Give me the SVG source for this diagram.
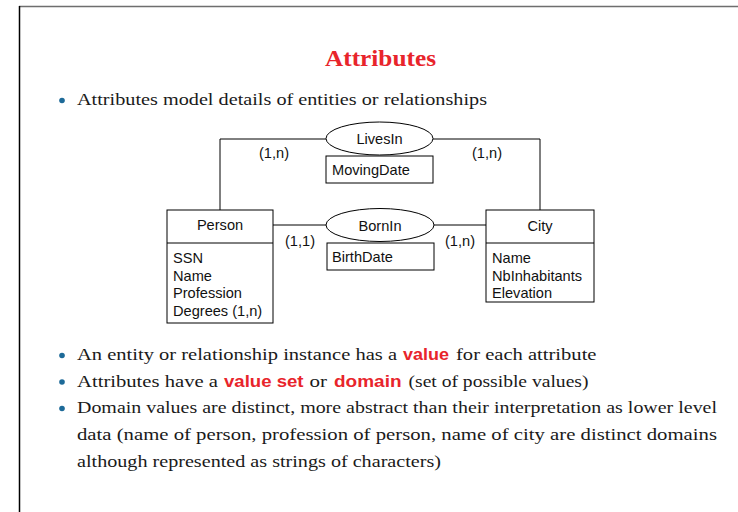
<svg xmlns="http://www.w3.org/2000/svg" width="738" height="512" viewBox="0 0 738 512">
  <style>
    .frame { stroke-width: 1.5; fill: none; }
    .box { fill: #fff; stroke: #000; stroke-width: 1; }
    .rel { fill: #fff; stroke: #000; stroke-width: 1; }
    .conn { fill: none; stroke: #000; stroke-width: 1; }
    .lbl { font-family: "Liberation Sans", Arial, sans-serif; font-size: 14.6px; fill: #111; }
    .mid { text-anchor: middle; }
    .body { font-family: "Liberation Serif", "Times New Roman", serif; font-size: 17.5px; fill: #1a1a1a; }
    .hl { font-family: "Liberation Sans", Arial, sans-serif; font-weight: bold; font-size: 16.5px; fill: #e8242b; }
    .title { font-family: "Liberation Serif", "Times New Roman", serif; font-weight: bold; font-size: 24px; fill: #e8242b; }
    .dot { fill: #1d6a98; }
  </style>

  <rect width="738" height="512" fill="#fff"/>

  <!-- page frame -->
  <line class="frame" x1="19" y1="6.5" x2="738" y2="6.5" stroke="#6e6e6e"/>
  <line class="frame" x1="19.5" y1="6" x2="19.5" y2="512" stroke="#000"/>

  <!-- heading -->
  <text class="title" x="325" y="66" textLength="111" lengthAdjust="spacingAndGlyphs">Attributes</text>

  <!-- first bullet -->
  <circle class="dot" cx="62" cy="100.5" r="2.8"/>
  <text class="body" x="77" y="105" textLength="410" lengthAdjust="spacingAndGlyphs">Attributes model details of entities or relationships</text>

  <!-- connectors -->
  <g id="connectors">
    <polyline class="conn" points="220,210 220,139 326,139"/>
    <polyline class="conn" points="433,139 540,139 540,210"/>
    <line class="conn" x1="273" y1="225" x2="326" y2="225"/>
    <line class="conn" x1="434" y1="225" x2="486" y2="225"/>
  </g>

  <!-- cardinalities -->
  <g id="cardinalities">
    <text class="lbl" x="259" y="158">(1,n)</text>
    <text class="lbl" x="472" y="158">(1,n)</text>
    <text class="lbl" x="285" y="246">(1,1)</text>
    <text class="lbl" x="445" y="246">(1,n)</text>
  </g>

  <!-- entity Person -->
  <g id="person">
    <rect class="box" x="167" y="210" width="106" height="113"/>
    <line class="conn" x1="167" y1="243" x2="273" y2="243"/>
    <text class="lbl mid" x="220" y="229.5">Person</text>
    <text class="lbl" x="173" y="263">SSN</text>
    <text class="lbl" x="173" y="280.5">Name</text>
    <text class="lbl" x="173" y="298">Profession</text>
    <text class="lbl" x="173" y="315.5">Degrees (1,n)</text>
  </g>

  <!-- entity City -->
  <g id="city">
    <rect class="box" x="486" y="210" width="108" height="92"/>
    <line class="conn" x1="486" y1="243" x2="594" y2="243"/>
    <text class="lbl mid" x="540" y="231">City</text>
    <text class="lbl" x="492" y="263">Name</text>
    <text class="lbl" x="492" y="280.5">NbInhabitants</text>
    <text class="lbl" x="492" y="298">Elevation</text>
  </g>

  <!-- relationship LivesIn -->
  <g id="livesin">
    <ellipse class="rel" cx="379.5" cy="138.5" rx="53.5" ry="16.5"/>
    <text class="lbl mid" x="379.5" y="144">LivesIn</text>
    <rect class="box" x="326" y="156" width="107" height="27"/>
    <text class="lbl" x="332" y="175">MovingDate</text>
  </g>

  <!-- relationship BornIn -->
  <g id="bornin">
    <ellipse class="rel" cx="380" cy="225" rx="54" ry="16.5"/>
    <text class="lbl mid" x="380" y="230.5">BornIn</text>
    <rect class="box" x="327" y="243" width="107" height="27"/>
    <text class="lbl" x="332" y="262">BirthDate</text>
  </g>

  <!-- remaining bullets -->
  <circle class="dot" cx="62" cy="355.5" r="2.8"/>
  <text class="body" x="77" y="360" textLength="320" lengthAdjust="spacingAndGlyphs">An entity or relationship instance has a</text>
  <text class="hl" x="403" y="360" textLength="46" lengthAdjust="spacingAndGlyphs">value</text>
  <text class="body" x="456" y="360" textLength="140.5" lengthAdjust="spacingAndGlyphs">for each attribute</text>

  <circle class="dot" cx="62" cy="382" r="2.8"/>
  <text class="body" x="77" y="386.5" textLength="141" lengthAdjust="spacingAndGlyphs">Attributes have a</text>
  <text class="hl" x="224" y="386.5" textLength="79.5" lengthAdjust="spacingAndGlyphs">value set</text>
  <text class="body" x="309.5" y="386.5" textLength="17.5" lengthAdjust="spacingAndGlyphs">or</text>
  <text class="hl" x="334" y="386.5" textLength="67.5" lengthAdjust="spacingAndGlyphs">domain</text>
  <text class="body" x="408.5" y="386.5" textLength="180" lengthAdjust="spacingAndGlyphs">(set of possible values)</text>

  <circle class="dot" cx="62" cy="408.5" r="2.8"/>
  <text class="body" x="77" y="413" textLength="640" lengthAdjust="spacingAndGlyphs">Domain values are distinct, more abstract than their interpretation as lower level</text>
  <text class="body" x="77" y="440" textLength="640" lengthAdjust="spacingAndGlyphs">data (name of person, profession of person, name of city are distinct domains</text>
  <text class="body" x="77" y="466.5" textLength="364" lengthAdjust="spacingAndGlyphs">although represented as strings of characters)</text>
</svg>
